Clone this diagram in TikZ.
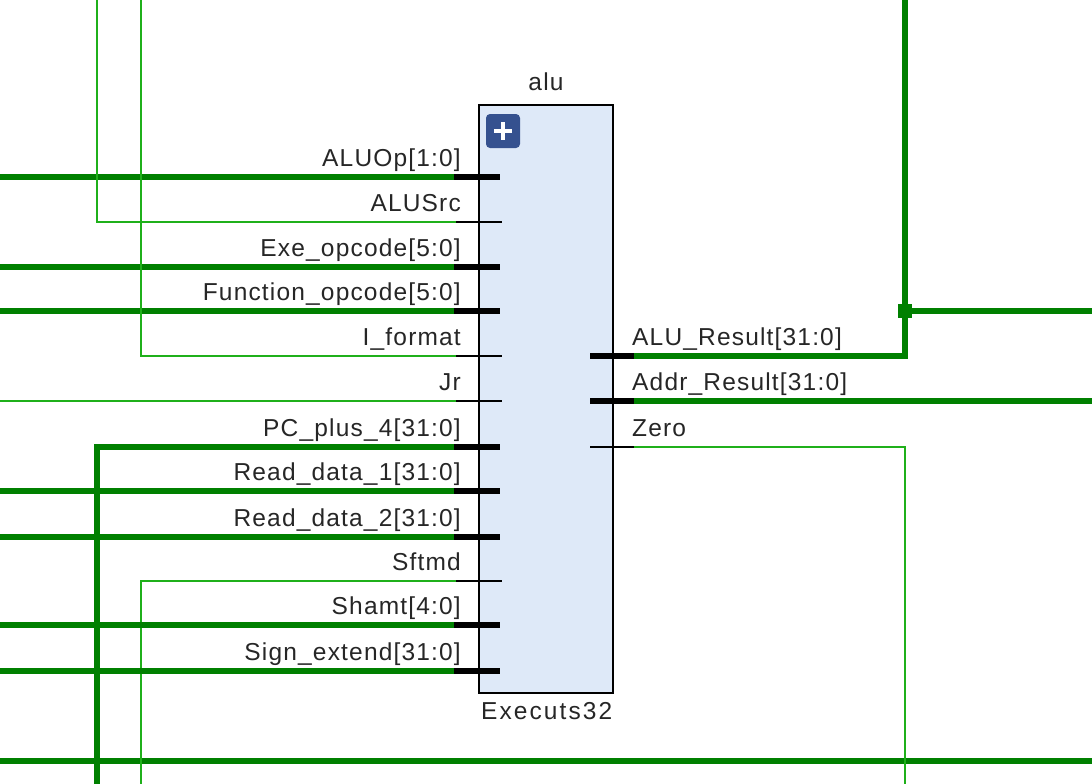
\documentclass[tikz,border=0pt]{standalone}
\usepackage{fontspec}
\setmainfont[LetterSpace=4.8]{Liberation Sans}
\newfontfamily\widefont[LetterSpace=8.5]{Liberation Sans}
\definecolor{busgreen}{HTML}{008000}
\definecolor{netgreen}{HTML}{1FB01A}
\definecolor{blockfill}{HTML}{DEE9F8}
\definecolor{btnblue}{HTML}{35518F}
\definecolor{labelink}{HTML}{262626}
\tikzset{
  bus/.style={draw=busgreen,line width=6pt},
  net/.style={draw=netgreen,line width=2pt},
  busstub/.style={draw=black,line width=6pt},
  netstub/.style={draw=black,line width=2pt},
  plabel/.style={font=\fontsize{24.5}{28}\selectfont,text=labelink,inner sep=0pt},
  inlabel/.style={plabel,anchor=base east},
  outlabel/.style={plabel,anchor=base west},
}
\begin{document}
\begin{tikzpicture}[x=1pt,y=-1pt,line join=miter]
\useasboundingbox (0,0) rectangle (1092,784);
\coordinate (tl1) at (97,0);
\coordinate (tl2) at (141,0);
\coordinate (bl1) at (97,784);
\coordinate (bl2) at (141,784);
\coordinate (tr) at (905,0);
\coordinate (br) at (905,784);
\coordinate (lowL) at (0,761);
\coordinate (lowR) at (1092,761);
\coordinate (junc) at (905,311);
\coordinate (juncR) at (1092,311);
\draw[bus] (lowL) -- (lowR);
% block
\node[draw=black,line width=2pt,fill=blockfill,minimum width=134pt,minimum height=588pt,inner sep=0pt,outer sep=0pt,anchor=north west] (block) at (479,105) {};
\node[plabel,anchor=base] (title) at (546,91) {alu};
\node[plabel,anchor=base west,font=\fontsize{24.5}{28}\selectfont\widefont] (cell) at (481,719) {Executs32};
\node[fill=btnblue,rounded corners=4pt,minimum size=34pt,inner sep=0pt] (btn) at (503,131) {};
\draw[white,line width=4pt] (494,131) -- (512,131) (503,122) -- (503,140);
% input pins
\foreach \nm/\yy/\kind/\txt in {
  a/177/b/{ALUOp[1:0]},
  b/222/n/{ALUSrc},
  c/267/b/{Exe\_opcode[5:0]},
  d/311/b/{Function\_opcode[5:0]},
  e/356/n/{I\_format},
  f/401/n/{Jr},
  g/447/b/{PC\_plus\_4[31:0]},
  h/491/b/{Read\_data\_1[31:0]},
  i/537/b/{Read\_data\_2[31:0]},
  j/581/n/{Sftmd},
  k/625/b/{Shamt[4:0]},
  l/671/b/{Sign\_extend[31:0]}}{
  \coordinate (west\nm) at (0,\yy);
  \if\kind b
    \coordinate (pin\nm) at (454,\yy);
    \coordinate (end\nm) at (500,\yy);
    \draw[busstub] (pin\nm) -- (end\nm);
  \else
    \coordinate (pin\nm) at (456,\yy);
    \coordinate (end\nm) at (502,\yy);
    \draw[netstub] (pin\nm) -- (end\nm);
  \fi
  \node[inlabel] (lab\nm) at (461,\yy-11) {\txt};
}
% input wires
\draw[bus] (westa) -- (pina);
\draw[net] (tl1) |- (pinb);
\draw[bus] (westc) -- (pinc);
\draw[bus] (westd) -- (pind);
\draw[net] (tl2) |- (pine);
\draw[net] (westf) -- (pinf);
\draw[bus] (bl1) |- (ping);
\draw[bus] (westh) -- (pinh);
\draw[bus] (westi) -- (pini);
\draw[net] (bl2) |- (pinj);
\draw[bus] (westk) -- (pink);
\draw[bus] (westl) -- (pinl);
% output pins
\coordinate (outA) at (634,356);
\coordinate (outB) at (634,401);
\coordinate (outC) at (634,447);
\coordinate (inA) at (590,356);
\coordinate (inB) at (590,401);
\coordinate (inC) at (590,447);
\coordinate (eastB) at (1092,401);
\draw[busstub] (inA) -- (outA);
\draw[busstub] (inB) -- (outB);
\draw[netstub] (inC) -- (outC);
\node[outlabel] (labA) at (632,345) {ALU\_Result[31:0]};
\node[outlabel] (labB) at (632,390) {Addr\_Result[31:0]};
\node[outlabel] (labC) at (632,436) {Zero};
\draw[bus] (outA) -| (tr);
\draw[bus] (outB) -- (eastB);
\draw[net] (outC) -| (br);
\draw[bus] (junc) -- (juncR);
\fill[busgreen] (898,304) rectangle (912,318);
\end{tikzpicture}
\end{document}
